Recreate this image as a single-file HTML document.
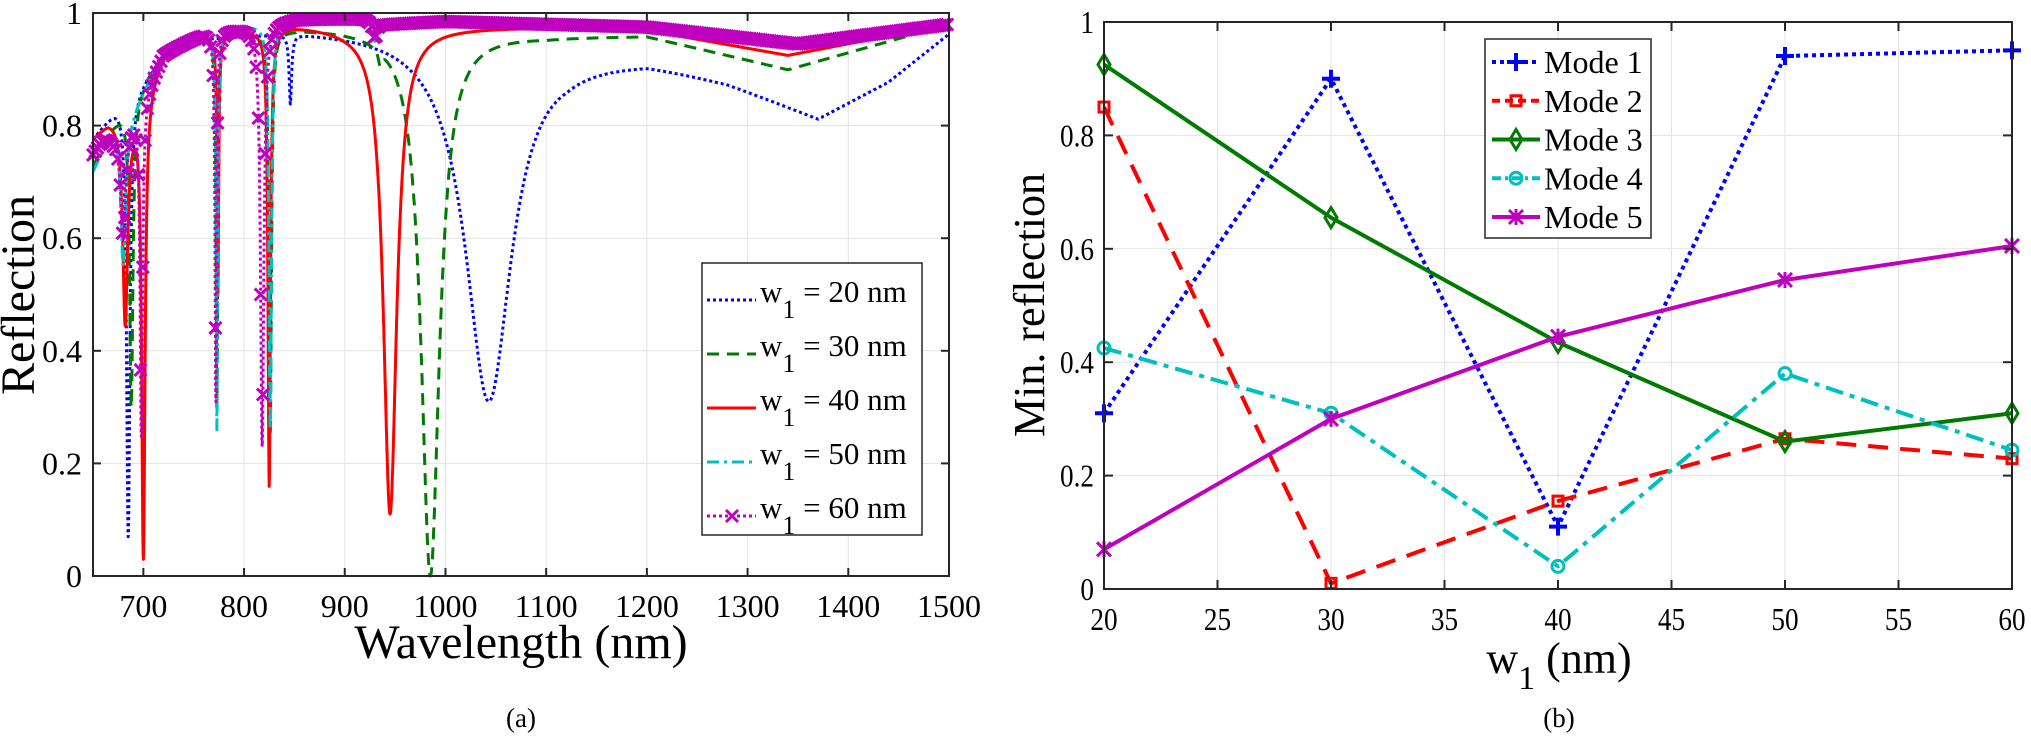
<!DOCTYPE html>
<html><head><meta charset="utf-8"><style>
html,body{margin:0;padding:0;background:#fff;}
svg{display:block;font-family:"Liberation Serif",serif;}
</style></head><body>
<svg id="s" width="2031" height="737" viewBox="0 0 2031 737" xmlns="http://www.w3.org/2000/svg">
<rect width="2031" height="737" fill="#fff"/>
<g id="L"></g>
<g id="R"></g>
</svg>
<script>
const NS="http://www.w3.org/2000/svg";
function el(p,t,a,txt){const e=document.createElementNS(NS,t);for(const k in a)e.setAttribute(k,a[k]);if(txt!==undefined)e.textContent=txt;p.appendChild(e);return e;}
const L=document.getElementById('L'),R=document.getElementById('R');
// ---------- LEFT ----------
const lx=l=>93+(l-650)*(856/850), ly=r=>576-r*563;
for(let l=700;l<=1400;l+=100)el(L,'line',{x1:lx(l),x2:lx(l),y1:13,y2:576,stroke:'#e3e3e3','stroke-width':1});
for(let r=0.2;r<0.99;r+=0.2)el(L,'line',{x1:93,x2:949,y1:ly(r),y2:ly(r),stroke:'#e3e3e3','stroke-width':1});
function interp(pts,x){for(let i=0;i<pts.length-1;i++){if(x<=pts[i+1][0]){const t=(x-pts[i][0])/(pts[i+1][0]-pts[i][0]);return pts[i][1]+t*(pts[i+1][1]-pts[i][1]);}}return pts[pts.length-1][1];}
function curve(base,dips){const out=[];for(let l=650;l<=1500;l+=0.25){let b=interp(base,l);let f=1;for(const d of dips){const [c,min,g]=d;const depth=1-min/b;f*= (1-depth*g*g/((l-c)*(l-c)+g*g));}out.push([l,b*f]);}return out;}
const C=[
 {col:'#0000ff',dash:'3,3',w:3,base:[[650,0.78],[675,0.84],[694,0.87],[720,0.93],[760,0.96],[850,0.975],[950,0.975],[1043,0.97],[1120,0.93],[1200,0.92],[1280,0.88],[1370,0.815],[1440,0.88],[1500,0.965]],dips:[[685,0.07,2],[846,0.85,1.5],[1043,0.31,28]]},
 {col:'#007a00',dash:'12,8',w:3,base:[[650,0.73],[670,0.8],[690,0.85],[720,0.93],[760,0.965],[800,0.97],[860,0.975],[950,0.975],[1000,0.97],[1100,0.96],[1200,0.96],[1340,0.9],[1500,0.98]],dips:[[688,0.3,2],[773,0.3,1],[826,0.25,1.5],[935,0.95,2],[985,0.0,11]]},
 {col:'#ff0000',dash:'',w:3,base:[[650,0.78],[665,0.81],[690,0.83],[720,0.93],[760,0.96],[850,0.98],[900,0.975],[1000,0.975],[1100,0.975],[1200,0.97],[1340,0.925],[1500,0.98]],dips:[[682,0.45,3],[700,0.03,2],[774,0.5,1],[825,0.16,1.5],[945,0.11,8]]},
 {col:'#00bfbf',dash:'12,5,3,5',w:3,base:[[650,0.72],[670,0.8],[690,0.83],[720,0.93],[760,0.965],[850,0.99],[920,0.985],[1000,0.98],[1200,0.97],[1350,0.94],[1500,0.98]],dips:[[680,0.55,3],[773,0.26,1],[826,0.26,1.5],[930,0.95,2]]},
 {col:'#bf00bf',dash:'3,3',w:3,mk:1,base:[[650,0.75],[660,0.78],[670,0.78],[690,0.82],[720,0.93],[760,0.965],[850,0.99],[920,0.99],[940,0.98],[1000,0.985],[1200,0.975],[1350,0.945],[1500,0.98]],dips:[[680,0.6,3],[698,0.25,1.5],[772,0.31,1],[818,0.23,2],[930,0.95,2]]}
];
for(const c of C){const pts=curve(c.base,c.dips);let d='';pts.forEach((p,i)=>{d+=(i?'L':'M')+lx(p[0]).toFixed(1)+' '+ly(Math.max(0,p[1])).toFixed(1);});
 const a={d:d,fill:'none',stroke:c.col,'stroke-width':c.w,'stroke-linejoin':'round'};if(c.dash)a['stroke-dasharray']=c.dash;el(L,'path',a);
 if(c.mk){let md='';for(let i=0;i<pts.length;i+=9){const x=lx(pts[i][0]),y=ly(pts[i][1]);md+=`M${(x-6).toFixed(1)} ${(y-6).toFixed(1)}L${(x+6).toFixed(1)} ${(y+6).toFixed(1)}M${(x-6).toFixed(1)} ${(y+6).toFixed(1)}L${(x+6).toFixed(1)} ${(y-6).toFixed(1)}`;}el(L,'path',{d:md,stroke:c.col,'stroke-width':3,fill:'none'});}
}
el(L,'rect',{x:93,y:13,width:856,height:563,fill:'none',stroke:'#262626','stroke-width':2});
for(let l=700;l<=1400;l+=100){el(L,'line',{x1:lx(l),x2:lx(l),y1:576,y2:568,stroke:'#262626','stroke-width':2});el(L,'line',{x1:lx(l),x2:lx(l),y1:13,y2:21,stroke:'#262626','stroke-width':2});}
for(let r=0.2;r<0.99;r+=0.2){el(L,'line',{x1:93,x2:101,y1:ly(r),y2:ly(r),stroke:'#262626','stroke-width':2});el(L,'line',{x1:949,x2:941,y1:ly(r),y2:ly(r),stroke:'#262626','stroke-width':2});}
for(let l=700;l<=1500;l+=100)el(L,'text',{x:lx(l),y:617,'font-size':32,'text-anchor':'middle'},String(l));
['0','0.2','0.4','0.6','0.8','1'].forEach((t,i)=>el(L,'text',{x:82,y:ly(i*0.2)+11,'font-size':32,'text-anchor':'end'},t));
el(L,'text',{x:521,y:658,'font-size':48,'text-anchor':'middle'},'Wavelength (nm)');
el(L,'text',{x:0,y:0,'font-size':48,'text-anchor':'middle',transform:'translate(34,295) rotate(-90)'},'Reflection');
el(L,'text',{x:521,y:727,'font-size':27,'text-anchor':'middle'},'(a)');
el(L,'rect',{x:702,y:263,width:220,height:272,fill:'#fff',stroke:'#262626','stroke-width':1.5});
const labs=['20','30','40','50','60'];
C.forEach((c,i)=>{const y=288+i*54;const a={x1:707,x2:756,y1:y+12,y2:y+12,stroke:c.col,'stroke-width':3};if(c.dash)a['stroke-dasharray']=c.dash;el(L,'line',a);
 if(c.mk)el(L,'path',{d:`M726 ${y+6}L738 ${y+18}M726 ${y+18}L738 ${y+6}`,stroke:c.col,'stroke-width':3});
 const t=el(L,'text',{x:760,y:y+14,'font-size':31});el(t,'tspan',{},'w');el(t,'tspan',{dy:16,'font-size':26},'1');el(t,'tspan',{dy:-16},' = '+labs[i]+' nm');});
// ---------- RIGHT ----------
const rx=v=>1104+(v-20)*(908/40), ry=r=>589-r*567;
for(let v=25;v<60;v+=5)el(R,'line',{x1:rx(v),x2:rx(v),y1:22,y2:589,stroke:'#e3e3e3','stroke-width':1});
for(let r=0.2;r<0.99;r+=0.2)el(R,'line',{x1:1104,x2:2012,y1:ry(r),y2:ry(r),stroke:'#e3e3e3','stroke-width':1});
const xs=[20,30,40,50,60];
const M=[
 {col:'#0000ff',dash:'4,4',d:[0.31,0.90,0.11,0.94,0.95],m:'plus'},
 {col:'#ff0000',dash:'20,12',d:[0.85,0.01,0.155,0.265,0.23],m:'sq'},
 {col:'#007a00',dash:'',d:[0.925,0.655,0.435,0.26,0.31],m:'dia'},
 {col:'#00bfbf',dash:'18,7,5,7',d:[0.425,0.31,0.04,0.38,0.245],m:'circ'},
 {col:'#bf00bf',dash:'',d:[0.07,0.30,0.445,0.545,0.605],m:'ast'}];
function marker(p,m,x,y,col){const s={stroke:col,'stroke-width':3,fill:'none'};
 if(m=='plus')el(p,'path',Object.assign({d:`M${x-9} ${y}H${x+9}M${x} ${y-9}V${y+9}`},s,{'stroke-width':4}));
 if(m=='sq')el(p,'rect',Object.assign({x:x-5,y:y-5,width:10,height:10},s));
 if(m=='dia')el(p,'path',Object.assign({d:`M${x} ${y-10}L${x+6} ${y}L${x} ${y+10}L${x-6} ${y}Z`},s));
 if(m=='circ')el(p,'circle',Object.assign({cx:x,cy:y,r:6},s));
 if(m=='ast')el(p,'path',Object.assign({d:`M${x-7} ${y-7}L${x+7} ${y+7}M${x-7} ${y+7}L${x+7} ${y-7}M${x} ${y-8}V${y+8}`},s));}
M.forEach(c=>{const pts=xs.map((v,i)=>rx(v)+','+ry(c.d[i])).join(' ');const a={points:pts,fill:'none',stroke:c.col,'stroke-width':4,'stroke-linejoin':'round'};if(c.dash)a['stroke-dasharray']=c.dash;el(R,'polyline',a);
 xs.forEach((v,i)=>marker(R,c.m,rx(v),ry(c.d[i]),c.col));});
el(R,'rect',{x:1104,y:22,width:908,height:567,fill:'none',stroke:'#262626','stroke-width':2});
for(let v=25;v<60;v+=5){el(R,'line',{x1:rx(v),x2:rx(v),y1:589,y2:580,stroke:'#262626','stroke-width':2});el(R,'line',{x1:rx(v),x2:rx(v),y1:22,y2:31,stroke:'#262626','stroke-width':2});}
for(let r=0.2;r<0.99;r+=0.2){el(R,'line',{x1:1104,x2:1113,y1:ry(r),y2:ry(r),stroke:'#262626','stroke-width':2});el(R,'line',{x1:2012,x2:2003,y1:ry(r),y2:ry(r),stroke:'#262626','stroke-width':2});}
for(let v=20;v<=60;v+=5)el(R,'text',{x:rx(v),y:630,'font-size':32,'text-anchor':'middle',transform:`translate(${rx(v)*0.15},0) scale(0.85,1)`},String(v));
['0','0.2','0.4','0.6','0.8','1'].forEach((t,i)=>el(R,'text',{x:1094/0.85,y:ry(i*0.2)+11,'font-size':32,'text-anchor':'end',transform:'scale(0.85,1)'},t));
{const t=el(R,'text',{x:1559,y:673,'font-size':44,'text-anchor':'middle'});el(t,'tspan',{},'w');el(t,'tspan',{dy:16,'font-size':34},'1');el(t,'tspan',{dy:-16},' (nm)');}
el(R,'text',{x:0,y:0,'font-size':44,'text-anchor':'middle',transform:'translate(1044,305) rotate(-90)'},'Min. reflection');
el(R,'text',{x:1559,y:727,'font-size':27,'text-anchor':'middle'},'(b)');
el(R,'rect',{x:1485,y:39,width:166,height:199,fill:'#fff',stroke:'#262626','stroke-width':1.5});
M.forEach((c,i)=>{const y=62+i*38.75;const a={x1:1492,x2:1540,y1:y,y2:y,stroke:c.col,'stroke-width':4};if(c.dash)a['stroke-dasharray']=c.dash=='20,12'?'8,5':c.dash=='18,7,5,7'?'9,4,3,4':c.dash;el(R,'line',a);
 marker(R,c.m,1516,y,c.col);el(R,'text',{x:1544,y:y+11,'font-size':32},'Mode '+(i+1));});
</script>
</body></html>
